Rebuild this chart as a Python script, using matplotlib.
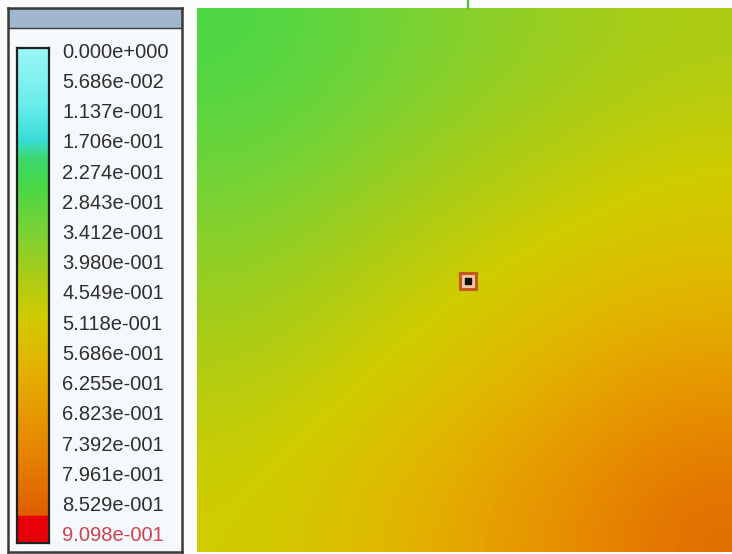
import numpy as np
import matplotlib
matplotlib.use("Agg")
import matplotlib.pyplot as plt
from matplotlib.colors import LinearSegmentedColormap
from matplotlib.patches import Rectangle

# contour levels shown in the legend
levels = np.linspace(0.0, 0.9098, 17)
level_labels = ["0.000e+000", "5.686e-002", "1.137e-001", "1.706e-001",
                "2.274e-001", "2.843e-001", "3.412e-001", "3.980e-001",
                "4.549e-001", "5.118e-001", "5.686e-001", "6.255e-001",
                "6.823e-001", "7.392e-001", "7.961e-001", "8.529e-001",
                "9.098e-001"]

# field values on a coarse grid (rows top -> bottom, cols left -> right)
field = np.array([
    [0.26, 0.31, 0.36, 0.40, 0.43],
    [0.32, 0.37, 0.42, 0.46, 0.50],
    [0.39, 0.44, 0.49, 0.54, 0.57],
    [0.45, 0.50, 0.56, 0.63, 0.70],
    [0.50, 0.56, 0.64, 0.73, 0.83],
])
probe_x = [0.506]
probe_y = [0.498]

vmin, vmax = -0.004, 0.927
nodes = [(-0.004, "#9af6f6"), (0.10, "#6aeeec"), (0.17, "#38dcd4"),
         (0.20, "#3cd870"), (0.25, "#46d848"), (0.34, "#7ad234"),
         (0.42, "#a8cc18"), (0.50, "#d0cc00"), (0.58, "#e0b800"),
         (0.66, "#e6a000"), (0.76, "#e68400"), (0.86, "#e06400"),
         (0.877, "#e05c00"), (0.879, "#e80008"), (0.927, "#e80008")]
cmap = LinearSegmentedColormap.from_list(
    "fluent", [((v - vmin) / (vmax - vmin), c) for v, c in nodes])

W, H = 732, 554
fig = plt.figure(figsize=(W / 100, H / 100), dpi=100, facecolor="#fbfbf9")

def px_axes(x0, y0, x1, y1, **kw):
    return fig.add_axes([x0 / W, 1 - y1 / H, (x1 - x0) / W, (y1 - y0) / H], **kw)

# legend panel
panel = px_axes(8, 8, 182, 552, facecolor="#f6f9fb")
panel.set_xticks([]); panel.set_yticks([])
for s in panel.spines.values():
    s.set_color("#3a3a3a"); s.set_linewidth(1.8)
panel.add_patch(Rectangle((0, 1 - 20 / 544), 1, 20 / 544, transform=panel.transAxes,
                          facecolor="#a0b6cf", edgecolor="#3a3a3a", lw=1.0))

# color bar
cax = px_axes(17, 48, 49, 543)
grad = np.linspace(vmin, vmax, 600).reshape(-1, 1)
cax.imshow(grad, cmap=cmap, vmin=vmin, vmax=vmax, aspect="auto",
           extent=[0, 1, vmax, vmin], interpolation="bilinear")
cax.set_ylim(vmax, vmin)
cax.set_xticks([])
cax.yaxis.tick_right()
cax.set_yticks(levels)
cax.set_yticklabels(level_labels, fontsize=14.5, family="Liberation Sans", color="#2e2e2e")
cax.tick_params(axis="y", length=0, pad=9.5)
cax.get_yticklabels()[-1].set_color("#d04050")
for s in cax.spines.values():
    s.set_color("#202020"); s.set_linewidth(1.6)

# contour field
ax = px_axes(197, 8, 732, 552)
ax.imshow(field, cmap=cmap, vmin=vmin, vmax=vmax, extent=[0, 1, 0, 1],
          origin="upper", aspect="auto", interpolation="bicubic")
ax.set_xlim(0, 1); ax.set_ylim(0, 1)
ax.set_xticks([]); ax.set_yticks([])
for s in ax.spines.values():
    s.set_visible(False)

# probe point and the line leaving the top edge
ax.plot([probe_x[0], probe_x[0]], [1.0, 1.0 + 9 / 544], color="#4cc040", lw=1.6, clip_on=False)
ax.plot(probe_x, probe_y, marker="s", ms=11, mfc="#f4c8a0", mec="#c05a20", mew=2.2, ls="none")
ax.plot(probe_x, probe_y, marker="s", ms=4.5, mfc="#101010", mec="#101010", ls="none")

fig.savefig("out.png", dpi=100, facecolor=fig.get_facecolor())
